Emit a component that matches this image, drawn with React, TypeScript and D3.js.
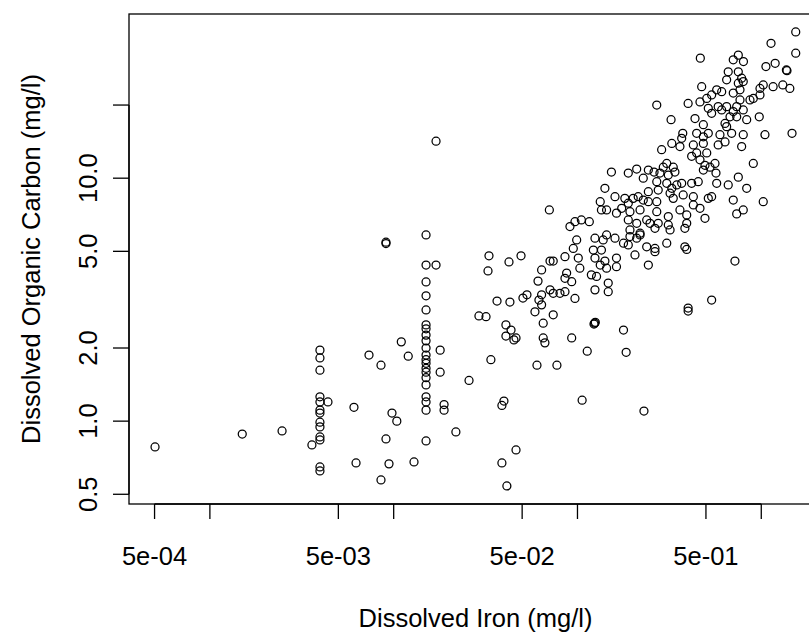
import * as d3 from "d3";

// axis ticks (R log axes)
const xTicks = [5e-4, 1e-3, 5e-3, 1e-2, 5e-2, 1e-1, 5e-1, 1];
const xTickLabels = ["5e-04", "", "5e-03", "", "5e-02", "", "5e-01", ""];
const yTicks = [0.5, 1, 2, 5, 10, 20];
const yTickLabels = ["0.5", "1.0", "2.0", "5.0", "10.0", ""];
const xDomain = [3.63e-4, 2.14];
const yDomain = [0.456, 47.4];

// [dissolved iron, dissolved organic carbon] in mg/l
const lowIron: [number, number][] = [
  [0.000503, 0.783], [0.0015, 0.885], [0.00247, 0.911], [0.00359, 0.798],
  [0.00397, 1.96], [0.00397, 1.82], [0.00397, 1.62], [0.00397, 1.26],
  [0.00397, 1.2], [0.00397, 1.11], [0.00397, 1.08], [0.00397, 0.99],
  [0.00397, 0.947], [0.00397, 0.861], [0.00397, 0.837], [0.00397, 0.648],
  [0.00397, 0.624], [0.00439, 1.2], [0.00608, 1.14], [0.00624, 0.673],
  [0.00734, 1.87], [0.00853, 1.7], [0.00853, 0.573], [0.00908, 5.45],
  [0.00908, 5.38], [0.00908, 0.845], [0.00943, 0.667], [0.00979, 1.08],
  [0.0104, 1.0], [0.011, 2.12], [0.012, 1.85], [0.0129, 0.679],
  [0.015, 5.84], [0.015, 4.39], [0.015, 3.74], [0.015, 3.28], [0.015, 2.87],
  [0.015, 2.49], [0.015, 2.4], [0.015, 2.26], [0.015, 2.14], [0.015, 2.0],
  [0.015, 1.87], [0.015, 1.79], [0.015, 1.73], [0.015, 1.65], [0.015, 1.59],
  [0.015, 1.51], [0.015, 1.41], [0.015, 1.26], [0.015, 1.2], [0.015, 1.11],
  [0.015, 0.829], [0.017, 14.2], [0.017, 4.39], [0.0179, 1.96],
  [0.0179, 1.59], [0.0188, 1.17], [0.0188, 1.11], [0.0218, 0.903],
  [0.0257, 1.47], [0.0291, 2.71],
];

const midIron: [number, number][] = [
  [0.0318, 2.69], [0.033, 4.79], [0.0326, 4.15], [0.0338, 1.79],
  [0.0365, 3.12], [0.0388, 1.16], [0.0398, 1.21], [0.0388, 0.673],
  [0.0408, 2.49], [0.0408, 2.24], [0.0435, 2.37], [0.0451, 2.16],
  [0.0463, 2.2], [0.0413, 0.541], [0.0424, 4.52], [0.0429, 3.09],
  [0.0463, 0.761], [0.0493, 4.79], [0.0505, 3.21], [0.0531, 3.31],
  [0.0602, 1.7], [0.061, 3.77], [0.0617, 3.15], [0.0587, 2.82],
  [0.0665, 2.1], [0.0773, 1.7], [0.0703, 7.4], [0.091, 6.32],
  [0.0969, 6.62], [0.099, 5.57], [0.0949, 5.14], [0.0855, 4.75],
  [0.0738, 4.56], [0.0709, 4.56], [0.0638, 4.19], [0.0873, 4.07],
  [0.0855, 3.87], [0.093, 3.75], [0.0709, 3.47], [0.0738, 3.36],
  [0.0803, 3.36], [0.0855, 3.41], [0.0969, 3.2], [0.0638, 3.31],
  [0.0638, 3.01], [0.0738, 2.74], [0.0651, 2.53], [0.093, 2.2],
  [0.0651, 2.2],
];

const highIron: [number, number][] = [
  [1.54, 40.0], [1.13, 35.9], [1.54, 32.7], [0.75, 32.1], [0.466, 31.2],
  [0.704, 30.7], [0.8, 30.2], [1.19, 29.7], [1.06, 28.8], [1.37, 27.9],
  [1.38, 27.7], [0.661, 27.4], [0.75, 27.4], [0.648, 25.4], [0.782, 25.8],
  [0.75, 24.6], [0.798, 25.0], [0.474, 23.8], [0.572, 23.1], [0.609, 22.7],
  [0.766, 23.1], [1.025, 24.2], [0.984, 23.4], [1.16, 23.8], [1.31, 24.2],
  [1.43, 23.4], [0.704, 22.4], [0.537, 22.0], [0.505, 21.3], [0.905, 21.3],
  [0.984, 22.0], [0.868, 21.0], [0.4, 20.3], [0.464, 20.6], [0.27, 20.0],
  [0.766, 21.0], [0.648, 19.7], [0.735, 19.7], [0.515, 19.4], [0.583, 19.7],
  [0.609, 19.1], [0.537, 18.5], [0.704, 18.8], [0.798, 19.1], [0.735, 17.9],
  [0.676, 17.9], [0.833, 17.4], [0.975, 17.9], [0.635, 16.8], [0.436, 17.6],
  [0.323, 17.4], [0.484, 16.6], [0.648, 16.3], [0.69, 15.3], [0.798, 15.1],
  [0.782, 13.5], [1.047, 15.1], [1.47, 15.3], [0.374, 15.3], [0.445, 15.3],
  [0.484, 14.8], [0.369, 14.6], [0.515, 15.3], [0.596, 15.1], [0.583, 13.7],
  [0.635, 14.1], [0.326, 13.9], [0.287, 13.1], [0.361, 13.5], [0.427, 13.7],
  [0.484, 13.9], [0.418, 12.3], [0.445, 12.7], [0.505, 12.7], [0.464, 11.9],
  [0.494, 11.3], [0.526, 11.1], [0.56, 11.5], [0.484, 10.8], [0.567, 10.5],
  [0.905, 11.5], [0.306, 11.5], [0.293, 11.1], [0.332, 11.1], [0.339, 10.6],
  [0.312, 10.3], [0.281, 10.5], [0.261, 10.6], [0.243, 10.8], [0.21, 10.9],
  [0.189, 10.5], [0.153, 10.6], [0.228, 10.0], [0.27, 9.67], [0.306, 9.53],
  [0.326, 9.09], [0.347, 9.38], [0.369, 9.53], [0.418, 9.53], [0.454, 9.67],
  [0.572, 9.53], [0.661, 9.38], [0.75, 10.1], [0.833, 9.09], [0.141, 9.09],
  [0.243, 8.8], [0.275, 8.94], [0.319, 8.67], [0.332, 8.26], [0.376, 8.53],
  [0.427, 8.39], [0.427, 7.76], [0.515, 8.26], [0.537, 8.39], [0.704, 8.13],
  [1.025, 8.0], [0.16, 8.39], [0.181, 8.26], [0.201, 8.26], [0.214, 8.39],
  [0.228, 8.13], [0.133, 8.0], [0.189, 7.89], [0.243, 8.0], [0.27, 8.0],
  [0.135, 7.4], [0.144, 7.4], [0.174, 7.52], [0.163, 7.18], [0.193, 7.28],
  [0.219, 7.4], [0.27, 7.28], [0.361, 7.4], [0.393, 7.06], [0.464, 7.52],
  [0.798, 7.4], [0.735, 7.13], [0.105, 6.73], [0.116, 6.62], [0.189, 6.73],
  [0.21, 6.52], [0.238, 6.73], [0.248, 6.52], [0.275, 6.52], [0.312, 6.95],
  [0.312, 6.42], [0.393, 6.52], [0.494, 6.84], [0.193, 6.12], [0.219, 5.94],
  [0.264, 6.22], [0.319, 6.12], [0.384, 6.22], [0.193, 5.75], [0.21, 5.66],
  [0.219, 5.84], [0.384, 5.22], [0.393, 5.09], [0.1245, 5.66], [0.138, 5.57],
  [0.16, 5.66], [0.144, 5.84], [0.178, 5.4], [0.189, 5.31], [0.238, 5.22],
  [0.264, 5.14], [0.306, 5.4], [0.122, 5.06], [0.135, 5.06], [0.2055, 4.83],
  [0.264, 4.98], [0.101, 4.69], [0.1245, 4.69], [0.141, 4.56], [0.163, 4.69],
  [0.163, 4.32], [0.144, 4.26], [0.133, 4.39], [0.103, 4.26], [0.243, 4.39],
  [0.719, 4.56], [0.119, 4.0], [0.127, 3.94], [0.147, 3.7], [0.1245, 3.47],
  [0.147, 3.41], [0.124, 2.53], [0.125, 2.55], [0.123, 2.51], [0.178, 2.37],
  [0.4, 2.92], [0.4, 2.84], [0.537, 3.15], [0.106, 1.22], [0.113, 1.94],
  [0.184, 1.92], [0.23, 1.1],
];

const samples = [...lowIron, ...midIron, ...highIron];

const W = 809;
const H = 633;
const left = 129;
const right = 822; // the box runs past the right edge of the picture
const top = 14;
const bottom = 504;
const font = "'Liberation Sans', Arial, Helvetica, sans-serif";
const fs = 25.5;

export default function App() {
  const x = d3.scaleLog().domain(xDomain).range([left, right]);
  const y = d3.scaleLog().domain(yDomain).range([bottom, top]);

  return (
    <svg
      width={W}
      height={H}
      style={{ position: "absolute", left: 0, top: 0, background: "#fff" }}
      fontFamily={font}
      fontSize={fs}
    >
      <rect x={0} y={0} width={W} height={H} fill="#fff" />

      {/* points */}
      <g fill="none" stroke="#000" strokeWidth={1.25}>
        {samples.map((d, i) => (
          <circle key={i} cx={x(d[0])} cy={y(d[1])} r={4} />
        ))}
      </g>

      {/* box */}
      <rect
        x={left}
        y={top}
        width={right - left}
        height={bottom - top}
        fill="none"
        stroke="#000"
        strokeWidth={1.3}
      />

      {/* x axis */}
      <g stroke="#000" strokeWidth={1.3}>
        <line x1={x(xTicks[0])} x2={x(xTicks[xTicks.length - 1])} y1={bottom} y2={bottom} />
        {xTicks.map((t, i) => (
          <line key={i} x1={x(t)} x2={x(t)} y1={bottom} y2={bottom + 15} />
        ))}
      </g>
      {xTicks.map((t, i) =>
        xTickLabels[i] ? (
          <text key={i} x={x(t)} y={565} textAnchor="middle" fill="#000">
            {xTickLabels[i]}
          </text>
        ) : null
      )}

      {/* y axis */}
      <g stroke="#000" strokeWidth={1.3}>
        <line x1={left} x2={left} y1={y(yTicks[0])} y2={y(yTicks[yTicks.length - 1])} />
        {yTicks.map((t, i) => (
          <line key={i} x1={left - 16} x2={left} y1={y(t)} y2={y(t)} />
        ))}
      </g>
      {yTicks.map((t, i) =>
        yTickLabels[i] ? (
          <text
            key={i}
            transform={`translate(97, ${y(t)}) rotate(-90)`}
            textAnchor="middle"
            fill="#000"
          >
            {yTickLabels[i]}
          </text>
        ) : null
      )}

      {/* axis titles */}
      <text x={(left + right) / 2} y={627} textAnchor="middle" fill="#000">
        Dissolved Iron (mg/l)
      </text>
      <text
        transform={`translate(40, ${(top + bottom) / 2}) rotate(-90)`}
        textAnchor="middle"
        fill="#000"
      >
        Dissolved Organic Carbon (mg/l)
      </text>
    </svg>
  );
}
